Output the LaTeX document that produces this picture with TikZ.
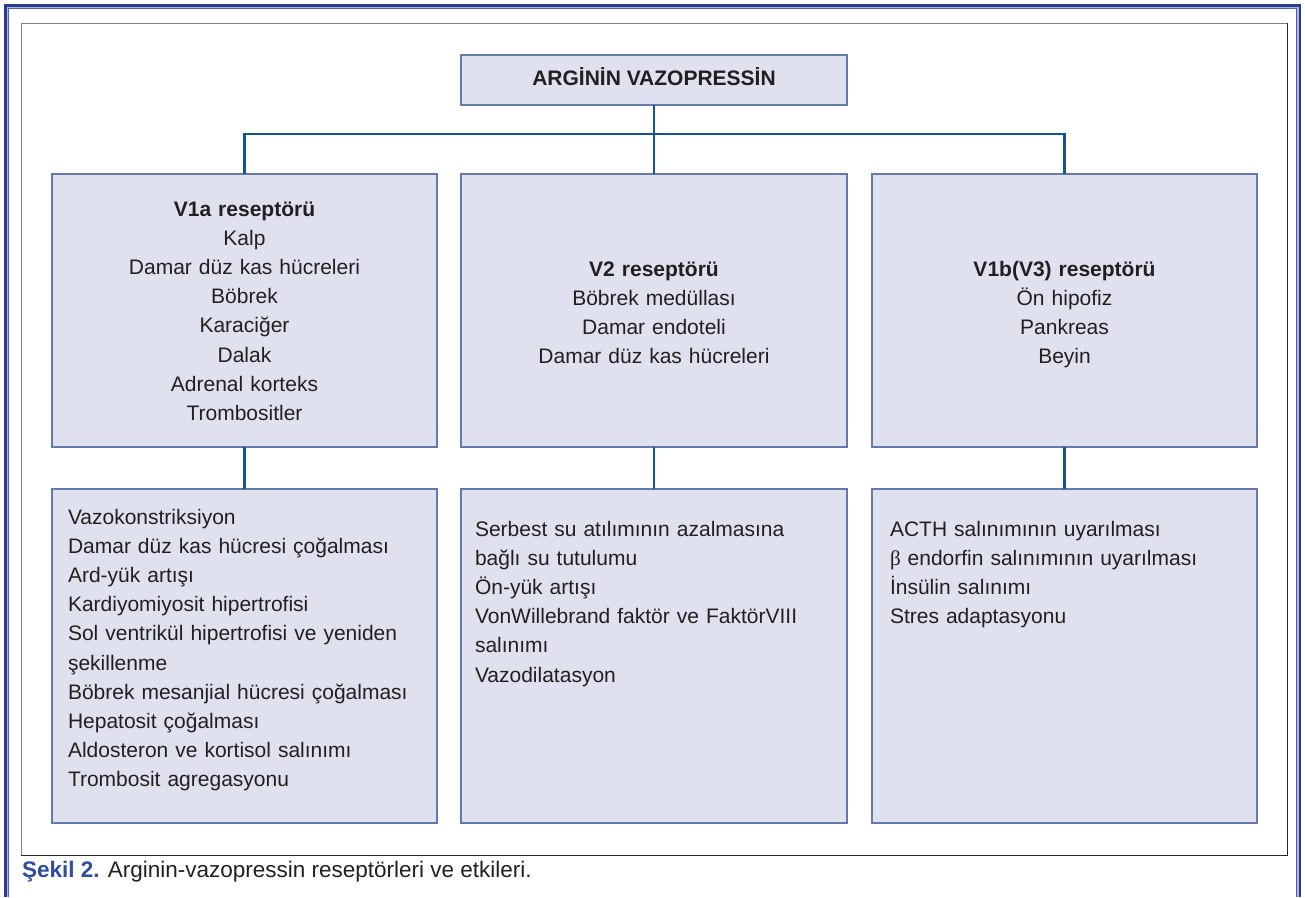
\documentclass[tikz,border=0pt]{standalone}
\usepackage{fontspec}
\setmainfont{Liberation Sans}
\newfontfamily\grkfont{Liberation Serif}
\definecolor{frameDark}{RGB}{43,57,144}
\definecolor{frameLight}{RGB}{170,182,222}
\definecolor{frameMid}{RGB}{80,100,170}
\definecolor{boxFill}{RGB}{223,226,238}
\definecolor{boxLine}{RGB}{100,122,172}
\definecolor{connBlue}{RGB}{20,84,150}
\definecolor{txtDark}{RGB}{35,31,32}
\definecolor{capBlue}{RGB}{46,76,160}
\tikzset{
  box/.style={draw=boxLine, fill=boxFill, line width=1.8pt, anchor=north west, inner sep=0pt, outer sep=0pt},
  conn/.style={draw=connBlue, line width=2.2pt},
  txt/.style={inner sep=0pt, outer sep=0pt, text=txtDark, font=\fontsize{21}{29.2}\selectfont},
}
\begin{document}
\begin{tikzpicture}[x=1pt,y=-1pt]
\useasboundingbox (0,0) rectangle (1305,897);
\fill[white] (0,0) rectangle (1305,897);
% outer decorative frame
\draw[frameDark, line width=2.6pt] (5.3,897) -- (5.3,5.3) -- (1300,5.3) -- (1300,897);
\draw[frameLight, line width=1.4pt] (7.4,897) -- (7.4,7.4) -- (1297.9,7.4) -- (1297.9,897);
\draw[frameMid, line width=1.2pt] (8.8,897) -- (8.8,8.8) -- (1296.5,8.8) -- (1296.5,897);
% inner frame
\draw[gray, line width=1pt] (21,855) -- (21,23) -- (1287,23);
\draw[black!85, line width=1pt] (21,855) -- (1287,855) -- (1287,23);

% boxes
\node[box, minimum width=386pt, minimum height=50pt] (top) at (461,55) {};
\node[box, minimum width=385pt, minimum height=273pt] (r1) at (52,174) {};
\node[box, minimum width=386pt, minimum height=273pt] (r2) at (461,174) {};
\node[box, minimum width=385pt, minimum height=273pt] (r3) at (872,174) {};
\node[box, minimum width=385pt, minimum height=334pt] (e1) at (52,489) {};
\node[box, minimum width=386pt, minimum height=334pt] (e2) at (461,489) {};
\node[box, minimum width=385pt, minimum height=334pt] (e3) at (872,489) {};

% connectors
\coordinate (bus) at (654,134);
\draw[conn] (top.south) -- (r2.north);
\draw[conn] (r1.north) -- (r1.north |- bus) -- (r3.north |- bus) -- (r3.north);
\draw[conn] (r1.south) -- (e1.north);
\draw[conn] (r2.south) -- (e2.north);
\draw[conn] (r3.south) -- (e3.north);

% texts
\node[txt, anchor=base, font=\fontsize{21}{29.2}\selectfont\bfseries] (title) at (654,85) {ARGİNİN VAZOPRESSİN};

\node[txt, anchor=base, text width=370pt, align=center] (t1) at (244.5,216) {\textbf{V1a reseptörü}\\Kalp\\Damar düz kas hücreleri\\Böbrek\\Karaciğer\\Dalak\\Adrenal korteks\\Trombositler};
\node[txt, anchor=base, text width=370pt, align=center] (t2) at (654,276) {\textbf{V2 reseptörü}\\Böbrek medüllası\\Damar endoteli\\Damar düz kas hücreleri};
\node[txt, anchor=base, text width=370pt, align=center] (t3) at (1064.5,276) {\textbf{V1b(V3) reseptörü}\\Ön hipofiz\\Pankreas\\Beyin};

\node[txt, anchor=base west, text width=365pt, align=left] (b1) at (68,524) {Vazokonstriksiyon\\Damar düz kas hücresi çoğalması\\Ard-yük artışı\\Kardiyomiyosit hipertrofisi\\Sol ventrikül hipertrofisi ve yeniden\\şekillenme\\Böbrek mesanjial hücresi çoğalması\\Hepatosit çoğalması\\Aldosteron ve kortisol salınımı\\Trombosit agregasyonu};
\node[txt, anchor=base west, text width=365pt, align=left] (b2) at (475,536) {Serbest su atılımının azalmasına\\bağlı su tutulumu\\Ön-yük artışı\\VonWillebrand faktör ve FaktörVIII\\salınımı\\Vazodilatasyon};
\node[txt, anchor=base west, text width=360pt, align=left] (b3) at (890,536) {ACTH salınımının uyarılması\\{\grkfont β} endorfin salınımının uyarılması\\İnsülin salınımı\\Stres adaptasyonu};

% caption
\node[txt, anchor=base west, font=\fontsize{22.5}{26}\selectfont] (cap) at (22,877) {\textcolor{capBlue}{\textbf{Şekil 2.}} Arginin-vazopressin reseptörleri ve etkileri.};
\end{tikzpicture}
\end{document}
